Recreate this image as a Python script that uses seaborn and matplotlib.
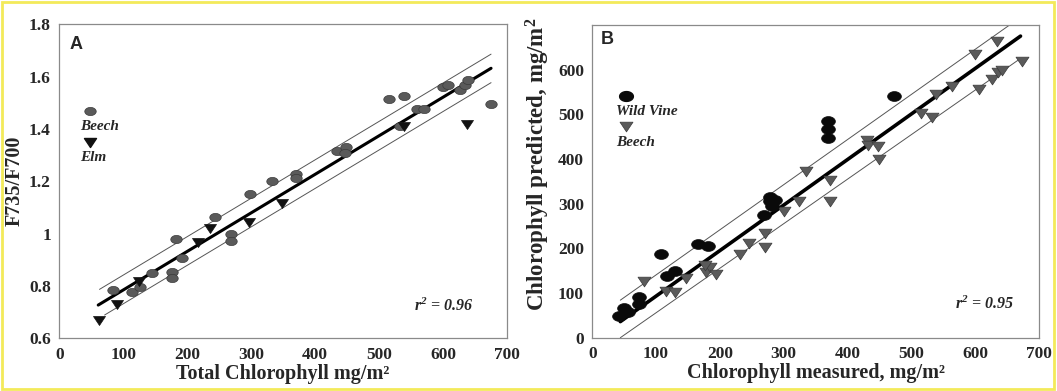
import numpy as np
import pandas as pd
import seaborn as sns
import matplotlib.pyplot as plt
from matplotlib.path import Path
from matplotlib.patches import Rectangle
from matplotlib.ticker import MultipleLocator, FuncFormatter

# panel A: F735/F700 vs total chlorophyll
a_beech_x = [84.5, 114, 127, 145, 176, 176, 183, 192, 243, 269, 269, 298, 333, 370, 370,
             434, 449, 447, 515, 539, 533, 560, 570, 600, 607, 626, 634, 639, 675]
a_beech_y = [0.785, 0.778, 0.795, 0.848, 0.855, 0.83, 0.978, 0.908, 1.065, 0.999, 0.973,
             1.152, 1.203, 1.228, 1.211, 1.317, 1.332, 1.31, 1.513, 1.526, 1.41, 1.477,
             1.477, 1.56, 1.568, 1.55, 1.568, 1.587, 1.494]
a_elm_x = [63, 90, 124, 217, 235, 297, 349, 539, 637]
a_elm_y = [0.67, 0.731, 0.819, 0.969, 1.02, 1.046, 1.118, 1.413, 1.418]

a_fit_x = [61, 675]
a_fit_y = [0.727, 1.632]
a_up_x = [63, 675]
a_up_y = [0.787, 1.686]
a_lo_x = [71, 675]
a_lo_y = [0.689, 1.577]

# panel B: predicted vs measured chlorophyll
b_vine_x = [42, 49, 56, 73, 73, 108.5, 117, 130, 165, 181, 268.5, 279, 279, 287, 282,
            369, 369, 369, 472]
b_vine_y = [49, 66, 58, 92, 75, 187, 139, 149, 209, 205, 275, 316, 305, 309, 294,
            484, 467, 448, 542]
b_beech_x = [80.5, 115, 129, 146.7, 178, 184, 176, 194, 232, 246, 271, 271, 300, 324, 335,
             372, 372, 430, 432, 448, 449, 515, 533, 538, 564, 600, 606, 626, 634, 636,
             642, 673]
b_beech_y = [127, 104.6, 102, 134.5, 148, 159, 163, 143, 187.6, 211, 234, 202.5, 284, 306,
             372, 353, 305, 443, 432, 428, 400, 504, 494, 546, 564, 635, 557, 578, 663,
             595, 600, 620]

b_fit_x = [44, 671]
b_fit_y = [36, 675]
b_up_x = [44, 654]
b_up_y = [84, 700]
b_lo_x = [44, 670]
b_lo_y = [0, 624]

sns.set_style('white')
plt.rcParams['font.family'] = ['Liberation Serif', 'DejaVu Serif']
plt.rcParams['font.weight'] = 'bold'
plt.rcParams['mathtext.fontset'] = 'custom'
plt.rcParams['mathtext.rm'] = 'Liberation Serif:bold'

# squashed circle and flat triangle like the original symbols
t = np.linspace(0, 2 * np.pi, 40)
ellipse = Path(np.column_stack([1.4 * np.cos(t), np.sin(t)]), closed=True)
tri = Path([(-0.6, 0.4), (0.6, 0.4), (0, -0.5), (-0.6, 0.4)], closed=True)

fig = plt.figure(figsize=(10.57, 3.91), dpi=100)
ax1 = fig.add_axes([0.056, 0.1348, 0.4237, 0.803])
ax2 = fig.add_axes([0.5603, 0.1363, 0.4227, 0.7999])

dfa1 = pd.DataFrame({'x': a_beech_x, 'y': a_beech_y})
dfa2 = pd.DataFrame({'x': a_elm_x, 'y': a_elm_y})
sns.scatterplot(data=dfa1, x='x', y='y', marker=ellipse, s=68, color='#5a5a5a',
                edgecolor='#3a3a3a', linewidth=0.5, ax=ax1, zorder=3)
sns.scatterplot(data=dfa2, x='x', y='y', marker=tri, s=75, color='#111111',
                edgecolor='#111111', linewidth=0.5, ax=ax1, zorder=3)
ax1.plot(a_fit_x, a_fit_y, color='black', lw=2.2, zorder=2)
ax1.plot(a_up_x, a_up_y, color='#555555', lw=0.7, zorder=2)
ax1.plot(a_lo_x, a_lo_y, color='#555555', lw=0.7, zorder=2)

dfb1 = pd.DataFrame({'x': b_vine_x, 'y': b_vine_y})
dfb2 = pd.DataFrame({'x': b_beech_x, 'y': b_beech_y})
sns.scatterplot(data=dfb2, x='x', y='y', marker=tri, s=88, color='#5a5a5a',
                edgecolor='#3a3a3a', linewidth=0.5, ax=ax2, zorder=3)
sns.scatterplot(data=dfb1, x='x', y='y', marker=ellipse, s=98, color='#0a0a0a',
                edgecolor='#0a0a0a', linewidth=0.5, ax=ax2, zorder=4)
ax2.plot(b_fit_x, b_fit_y, color='black', lw=2.6, zorder=2)
ax2.plot(b_up_x, b_up_y, color='#555555', lw=0.7, zorder=2)
ax2.plot(b_lo_x, b_lo_y, color='#555555', lw=0.7, zorder=2)

for ax in (ax1, ax2):
    ax.set_xlim(0, 700)
    ax.xaxis.set_major_locator(MultipleLocator(100))
    for s in ax.spines.values():
        s.set_color('#8a8a8a')
        s.set_linewidth(0.9)
    ax.tick_params(which='both', direction='inout', length=6, width=0.8,
                   color='#8a8a8a', labelsize=12.5, pad=3)

ax1.set_ylim(0.6, 1.8)
ax1.yaxis.set_major_locator(MultipleLocator(0.2))
ax1.yaxis.set_minor_locator(MultipleLocator(0.1))
ax1.xaxis.set_minor_locator(MultipleLocator(50))
ax1.yaxis.set_major_formatter(FuncFormatter(lambda v, p: f'{round(v, 2):g}'))
ax1.set_xlabel('Total Chlorophyll mg/m²', fontsize=14.5, fontweight='bold', labelpad=1)
ax1.set_ylabel('F735/F700', fontsize=14.5, fontweight='bold')
ax1.yaxis.set_label_coords(-0.077, 0.5)

ax2.set_ylim(0, 700)
ax2.set_yticks([0, 100, 200, 300, 400, 500, 600])
ax2.set_xlabel('Chlorophyll measured, mg/m²', fontsize=14.5, fontweight='bold', labelpad=1)
ax2.set_ylabel(r'Chlorophyll predicted, mg/m$\mathregular{^2}$', fontsize=16.5,
               fontweight='bold')
ax2.yaxis.set_label_coords(-0.09, 0.555)

for ax in (ax1, ax2):
    for lab in ax.get_xticklabels() + ax.get_yticklabels():
        lab.set_fontweight('bold')

# panel letters and r^2
ax1.text(0.023, 0.936, 'A', transform=ax1.transAxes, family='Liberation Sans',
         fontweight='bold', fontsize=13, va='center', ha='left')
ax2.text(0.02, 0.954, 'B', transform=ax2.transAxes, family='Liberation Sans',
         fontweight='bold', fontsize=13, va='center', ha='left')
ax1.text(0.924, 0.103, r'r$\mathregular{^2}$ = 0.96', transform=ax1.transAxes,
         fontstyle='italic', fontweight='bold', fontsize=11.5, ha='right', va='center')
ax2.text(0.944, 0.108, r'r$\mathregular{^2}$ = 0.95', transform=ax2.transAxes,
         fontstyle='italic', fontweight='bold', fontsize=11.5, ha='right', va='center')

# stacked legends (symbol above name)
ax1.scatter([0.068], [0.725], transform=ax1.transAxes, marker=ellipse, s=68,
            color='#5a5a5a', edgecolor='#3a3a3a', linewidth=0.5, clip_on=False)
ax1.text(0.046, 0.675, 'Beech', transform=ax1.transAxes, fontstyle='italic',
         fontweight='bold', fontsize=11, va='center')
ax1.scatter([0.068], [0.625], transform=ax1.transAxes, marker=tri, s=75,
            color='#111111', clip_on=False)
ax1.text(0.046, 0.575, 'Elm', transform=ax1.transAxes, fontstyle='italic',
         fontweight='bold', fontsize=11, va='center')

ax2.scatter([0.075], [0.773], transform=ax2.transAxes, marker=ellipse, s=98,
            color='#0a0a0a', clip_on=False)
ax2.text(0.053, 0.724, 'Wild Vine', transform=ax2.transAxes, fontstyle='italic',
         fontweight='bold', fontsize=11, va='center')
ax2.scatter([0.075], [0.677], transform=ax2.transAxes, marker=tri, s=88,
            color='#5a5a5a', edgecolor='#3a3a3a', linewidth=0.5, clip_on=False)
ax2.text(0.053, 0.624, 'Beech', transform=ax2.transAxes, fontstyle='italic',
         fontweight='bold', fontsize=11, va='center')

# yellow frame round the whole picture
fig.patches.append(Rectangle((0.002, 0.004), 0.995, 0.991, transform=fig.transFigure,
                             fill=False, edgecolor='#f3ea5a', linewidth=2))

fig.savefig('out.png', dpi=100)
